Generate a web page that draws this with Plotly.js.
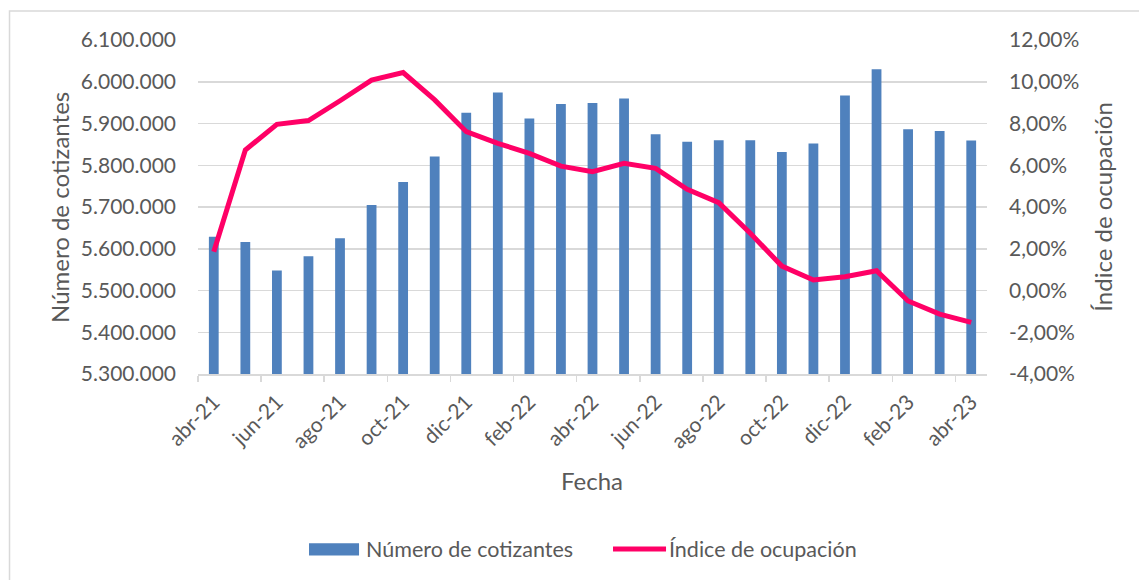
<!DOCTYPE html>
<html>
<head>
<meta charset="utf-8">
<script src="https://cdn.plot.ly/plotly-3.0.1.min.js"></script>
<style>html,body{margin:0;padding:0;background:#fff;}#chart{width:1139px;height:580px;}</style>
</head>
<body>
<div id="chart"></div>
<script>
const months = ['abr-21','may-21','jun-21','jul-21','ago-21','sep-21','oct-21','nov-21','dic-21',
  'ene-22','feb-22','mar-22','abr-22','may-22','jun-22','jul-22','ago-22','sep-22','oct-22','nov-22','dic-22',
  'ene-23','feb-23','mar-23','abr-23'];
const cotizantes = [5629000,5616000,5548000,5582000,5625000,5705000,5760000,5821000,5926000,
  5974000,5912000,5947000,5949000,5960000,5874000,5856000,5860000,5860000,5832000,5852000,5967000,
  6030000,5886000,5882000,5859000];
const ocupacion = [0.0186,0.0673,0.0796,0.0814,0.0909,0.1008,0.1044,0.0913,0.0761,
  0.0705,0.0657,0.0596,0.0569,0.0609,0.0585,0.0485,0.0421,0.0274,0.0117,0.0050,0.0066,
  0.0095,-0.0050,-0.0113,-0.0153];
const pctTickVals = [-0.04,-0.02,0,0.02,0.04,0.06,0.08,0.10,0.12];
const pctTickText = ['-4,00%','-2,00%','0,00%','2,00%','4,00%','6,00%','8,00%','10,00%','12,00%'];
const seriesNames = ['Número de cotizantes','Índice de ocupación'];
const xTitle = 'Fecha';

const FONT = 'Lato, "Open Sans", sans-serif';
const TXT = '#595959';
const GRID = '#d9d9d9';
const BLUE = '#4f81bd';
const PINK = '#ff0066';

const traces = [
  {type:'bar', name:seriesNames[0], x:months, y:cotizantes,
   marker:{color:BLUE}, yaxis:'y'},
  {type:'scatter', mode:'lines', name:seriesNames[1], x:months, y:ocupacion,
   line:{color:PINK, width:5}, yaxis:'y2'}
];

const layout = {
  width:1139, height:580,
  margin:{l:198, r:152, t:40, b:206},
  paper_bgcolor:'#fff', plot_bgcolor:'#fff',
  separators:',.',
  font:{family:FONT, color:TXT, size:21},
  bargap:0.69,
  showlegend:false,
  xaxis:{type:'category', tickmode:'linear', tick0:0, dtick:2, tickson:'boundaries',
    ticks:'outside', ticklen:6, tickcolor:GRID, tickwidth:1.5,
    showline:true, linecolor:GRID, linewidth:1.5, showgrid:false, zeroline:false,
    tickangle:-45, ticklabelstandoff:6, tickfont:{size:21, color:TXT}},
  yaxis:{range:[5300000,6100000], dtick:100000, tickformat:',d',
    showgrid:true, gridcolor:GRID, gridwidth:1.5, zeroline:false, showline:false,
    ticks:'', ticklabelstandoff:21, tickfont:{size:21, color:TXT}},
  yaxis2:{overlaying:'y', side:'right', range:[-0.04,0.12],
    tickmode:'array', tickvals:pctTickVals, ticktext:pctTickText,
    showgrid:false, zeroline:false, showline:false, ticks:'', ticklabelstandoff:21,
    tickfont:{size:21, color:TXT}},
  annotations:[
    {text:xTitle, xref:'paper', yref:'paper', x:0.4994, y:-0.3174, xanchor:'center', yanchor:'middle',
     showarrow:false, font:{size:24, color:TXT}},
    {text:seriesNames[0], xref:'paper', yref:'paper', x:-0.1762, y:0.5, xanchor:'center', yanchor:'middle',
     textangle:-90, showarrow:false, font:{size:24, color:TXT}},
    {text:seriesNames[1], xref:'paper', yref:'paper', x:1.1454, y:0.5, xanchor:'center', yanchor:'middle',
     textangle:-90, showarrow:false, font:{size:24, color:TXT}},
    {text:seriesNames[0], xref:'paper', yref:'paper', x:0.2105, y:-0.524, xanchor:'left', yanchor:'middle',
     showarrow:false, font:{size:21.5, color:TXT}},
    {text:seriesNames[1], xref:'paper', yref:'paper', x:0.5945, y:-0.524, xanchor:'left', yanchor:'middle',
     showarrow:false, font:{size:21.5, color:TXT}}
  ],
  shapes:[
    {type:'rect', xref:'paper', yref:'paper', x0:-0.2389, x1:1.2003, y0:-0.6467, y1:1.0868,
     line:{color:GRID, width:1.5}, fillcolor:'rgba(0,0,0,0)', layer:'below'},
    {type:'rect', xref:'paper', yref:'paper', x0:0.1407, x1:0.2041, y0:-0.5434, y1:-0.5069,
     line:{width:0}, fillcolor:BLUE},
    {type:'line', xref:'paper', yref:'paper', x0:0.526, x1:0.5932, y0:-0.524, y1:-0.524,
     line:{color:PINK, width:5}}
  ]
};

Plotly.newPlot('chart', traces, layout, {displayModeBar:false, staticPlot:true});
</script>
</body>
</html>
